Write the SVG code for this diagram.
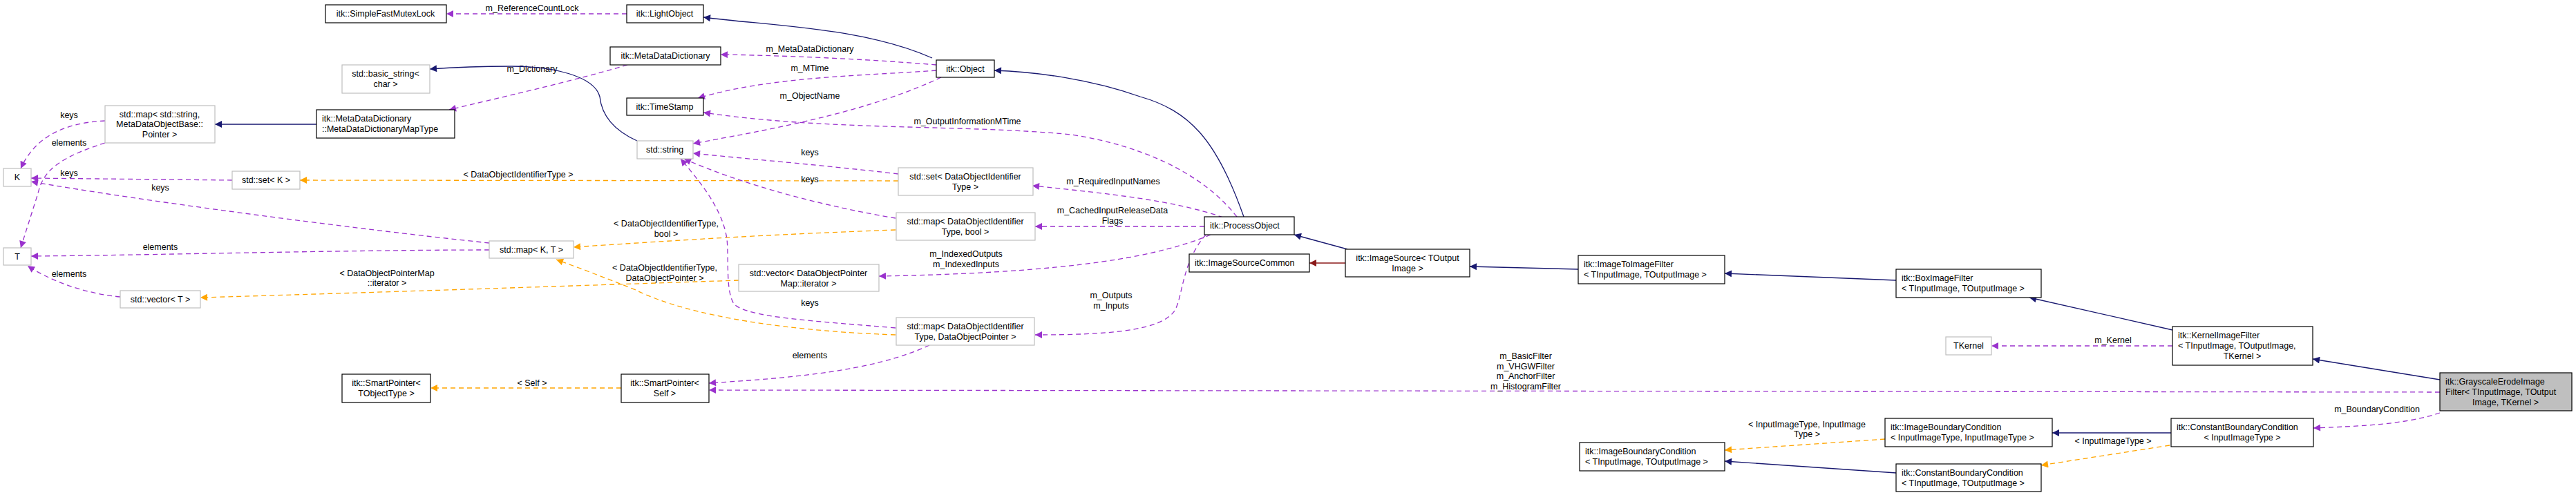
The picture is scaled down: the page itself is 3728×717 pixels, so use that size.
<svg xmlns="http://www.w3.org/2000/svg" width="3728" height="717" viewBox="0 0 3728 717">
<style>
text{font-family:"Liberation Sans",Arial,sans-serif;font-size:12.5px;fill:#000}
.n rect{fill:#fff;stroke:#000;stroke-width:1.2}
.g rect{fill:#fff;stroke:#bfbfbf;stroke-width:1.2}
.h rect{fill:#bfbfbf;stroke:#000;stroke-width:1.2}
.c{text-anchor:middle}
.inh{fill:none;stroke:#191970;stroke-width:1.3}
.use{fill:none;stroke:#9a32cd;stroke-width:1.3;stroke-dasharray:7,5}
.tpl{fill:none;stroke:#ffa500;stroke-width:1.3;stroke-dasharray:7,5}
.prv{fill:none;stroke:#8b1a1a;stroke-width:1.3}
</style>
<defs>
<marker id="aI" viewBox="0 0 10 10" refX="10" refY="5" markerWidth="12" markerHeight="10" markerUnits="userSpaceOnUse" orient="auto"><path d="M0,0L10,5L0,10z" fill="#191970"/></marker>
<marker id="aU" viewBox="0 0 10 10" refX="10" refY="5" markerWidth="12" markerHeight="10" markerUnits="userSpaceOnUse" orient="auto"><path d="M0,0L10,5L0,10z" fill="#9a32cd"/></marker>
<marker id="aT" viewBox="0 0 10 10" refX="10" refY="5" markerWidth="12" markerHeight="10" markerUnits="userSpaceOnUse" orient="auto"><path d="M0,0L10,5L0,10z" fill="#ffa500"/></marker>
<marker id="aP" viewBox="0 0 10 10" refX="10" refY="5" markerWidth="12" markerHeight="10" markerUnits="userSpaceOnUse" orient="auto"><path d="M0,0L10,5L0,10z" fill="#8b1a1a"/></marker>
</defs>
<g id="connectors">
<path class="use" marker-end="url(#aU)" d="M907,20 L646,20"/>
<text class="c" x="770" y="16">m_ReferenceCountLock</text>
<path class="inh" marker-end="url(#aI)" d="M1349,84 C1250,40 1120,38 1018,25"/>
<path class="use" marker-end="url(#aU)" d="M1355,94 C1250,85 1120,80 1043,79"/>
<text class="c" x="1172" y="75">m_MetaDataDictionary</text>
<path class="use" marker-end="url(#aU)" d="M1355,102 C1250,110 1120,110 1010,142"/>
<text class="c" x="1172" y="103">m_MTime</text>
<path class="use" marker-end="url(#aU)" d="M1362,112 C1250,165 1100,190 1003,208"/>
<text class="c" x="1172" y="143">m_ObjectName</text>
<path class="use" marker-end="url(#aU)" d="M908,94 C820,120 720,142 650,159"/>
<text class="c" x="770" y="104">m_Dictionary</text>
<path class="inh" marker-end="url(#aI)" d="M922,204 C880,185 870,160 868,140 C860,110 800,96 740,96 C690,96 650,98 622,100"/>
<path class="inh" marker-end="url(#aI)" d="M458,180 L311,180"/>
<path class="use" marker-end="url(#aU)" d="M152,175 C90,178 50,200 30,244"/>
<text class="c" x="100" y="171">keys</text>
<path class="use" marker-end="url(#aU)" d="M152,207 C80,230 62,250 55,280 L30,359"/>
<text class="c" x="100" y="211">elements</text>
<path class="use" marker-end="url(#aU)" d="M336,261 L45,258"/>
<text class="c" x="100" y="255">keys</text>
<path class="use" marker-end="url(#aU)" d="M708,352 C500,330 200,290 45,263"/>
<text class="c" x="232" y="276">keys</text>
<path class="use" marker-end="url(#aU)" d="M708,362 C500,362 200,370 45,371"/>
<text class="c" x="232" y="362">elements</text>
<path class="use" marker-end="url(#aU)" d="M174,430 C120,425 70,405 40,385"/>
<text class="c" x="100" y="401">elements</text>
<path class="use" marker-end="url(#aU)" d="M1300,252 C1200,240 1100,232 1003,222"/>
<text class="c" x="1172" y="225">keys</text>
<path class="tpl" marker-end="url(#aT)" d="M1300,262 L434,261"/>
<text class="c" x="750" y="257">&lt; DataObjectIdentifierType &gt;</text>
<path class="use" marker-end="url(#aU)" d="M1296,316 C1200,300 1080,270 990,230"/>
<text class="c" x="1172" y="264">keys</text>
<path class="tpl" marker-end="url(#aT)" d="M1296,333 C1100,340 950,350 830,358"/>
<text class="c" x="964" y="328">&lt; DataObjectIdentifierType,</text>
<text class="c" x="964" y="343">bool &gt;</text>
<path class="use" marker-end="url(#aU)" d="M1296,475 C1180,465 1080,460 1062,440 C1050,420 1055,380 1052,346 C1045,300 1010,260 985,230"/>
<text class="c" x="1172" y="443">keys</text>
<path class="tpl" marker-end="url(#aT)" d="M1296,485 C1150,480 1000,460 920,420 C870,400 830,385 805,376"/>
<text class="c" x="962" y="392">&lt; DataObjectIdentifierType,</text>
<text class="c" x="962" y="407">DataObjectPointer &gt;</text>
<path class="tpl" marker-end="url(#aT)" d="M1069,406 C800,415 500,425 290,431"/>
<text class="c" x="560" y="400">&lt; DataObjectPointerMap</text>
<text class="c" x="560" y="414">::iterator &gt;</text>
<path class="use" marker-end="url(#aU)" d="M1345,500 C1260,540 1130,548 1026,555"/>
<text class="c" x="1172" y="519">elements</text>
<path class="tpl" marker-end="url(#aT)" d="M899,562 L623,562"/>
<text class="c" x="770" y="559">&lt; Self &gt;</text>
<path class="inh" marker-end="url(#aI)" d="M1800,314 C1760,200 1720,160 1650,140 C1580,115 1500,104 1439,102"/>
<path class="use" marker-end="url(#aU)" d="M1790,314 C1740,250 1650,210 1550,195 C1400,180 1200,190 1018,163"/>
<text class="c" x="1400" y="180">m_OutputInformationMTime</text>
<path class="use" marker-end="url(#aU)" d="M1770,315 C1700,290 1600,280 1494,269"/>
<text class="c" x="1611" y="267">m_RequiredInputNames</text>
<path class="use" marker-end="url(#aU)" d="M1743,328 L1498,328"/>
<text class="c" x="1610" y="309">m_CachedInputReleaseData</text>
<text class="c" x="1610" y="324">Flags</text>
<path class="use" marker-end="url(#aU)" d="M1752,340 C1680,370 1560,395 1272,400"/>
<text class="c" x="1398" y="372">m_IndexedOutputs</text>
<text class="c" x="1398" y="387">m_IndexedInputs</text>
<path class="use" marker-end="url(#aU)" d="M1745,340 C1710,380 1712,430 1700,450 C1680,480 1600,485 1498,485"/>
<text class="c" x="1608" y="432">m_Outputs</text>
<text class="c" x="1608" y="447">m_Inputs</text>
<path class="inh" marker-end="url(#aI)" d="M1950,361 L1873,340"/>
<path class="prv" marker-end="url(#aP)" d="M1947,381 L1895,381"/>
<path class="inh" marker-end="url(#aI)" d="M2284,390 L2127,386"/>
<path class="inh" marker-end="url(#aI)" d="M2744,406 L2496,396"/>
<path class="inh" marker-end="url(#aI)" d="M3144,478 L2937,431"/>
<path class="use" marker-end="url(#aU)" d="M3144,501 L2882,501"/>
<text class="c" x="3058" y="497">m_Kernel</text>
<path class="inh" marker-end="url(#aI)" d="M3531,550 L3347,520"/>
<path class="use" marker-end="url(#aU)" d="M3531,568 L1026,565"/>
<text class="c" x="2208" y="520">m_BasicFilter</text>
<text class="c" x="2208" y="535">m_VHGWFilter</text>
<text class="c" x="2208" y="549">m_AnchorFilter</text>
<text class="c" x="2208" y="564">m_HistogramFilter</text>
<path class="use" marker-end="url(#aU)" d="M3531,598 C3480,615 3420,617 3348,620"/>
<text class="c" x="3440" y="597">m_BoundaryCondition</text>
<path class="inh" marker-end="url(#aI)" d="M3142,627 L2970,627"/>
<path class="tpl" marker-end="url(#aT)" d="M3140,645 L2954,674"/>
<text class="c" x="3058" y="643">&lt; InputImageType &gt;</text>
<path class="tpl" marker-end="url(#aT)" d="M2728,636 L2496,652"/>
<text class="c" x="2615" y="619">&lt; InputImageType, InputImage</text>
<text class="c" x="2615" y="633">Type &gt;</text>
<path class="inh" marker-end="url(#aI)" d="M2744,685 L2496,668"/>
</g>
<g id="SimpleFastMutexLock" class="n"><rect x="471" y="7" width="175" height="26"/><text class="c" x="558" y="24">itk::SimpleFastMutexLock</text></g>
<g id="LightObject" class="n"><rect x="907" y="7" width="111" height="26"/><text class="c" x="962" y="24">itk::LightObject</text></g>
<g id="MetaDataDictionary" class="n"><rect x="883" y="68" width="160" height="26"/><text class="c" x="963" y="85">itk::MetaDataDictionary</text></g>
<g id="Object" class="n"><rect x="1355" y="87" width="84" height="25"/><text class="c" x="1397" y="104">itk::Object</text></g>
<g id="basic_string" class="g"><rect x="495" y="94" width="127" height="41"/><text class="c" x="558" y="111">std::basic_string&lt;</text><text class="c" x="558" y="126">char &gt;</text></g>
<g id="MapType" class="n"><rect x="458" y="159" width="200" height="41"/><text x="466" y="176">itk::MetaDataDictionary</text><text x="466" y="191">::MetaDataDictionaryMapType</text></g>
<g id="TimeStamp" class="n"><rect x="907" y="142" width="111" height="25"/><text class="c" x="962" y="159">itk::TimeStamp</text></g>
<g id="stdmapstring" class="g"><rect x="152" y="153" width="159" height="54"/><text class="c" x="231" y="170">std::map&lt; std::string,</text><text class="c" x="231" y="184">MetaDataObjectBase::</text><text class="c" x="231" y="199">Pointer &gt;</text></g>
<g id="stdstring" class="g"><rect x="922" y="204" width="81" height="26"/><text class="c" x="962" y="221">std::string</text></g>
<g id="K" class="g"><rect x="5" y="244" width="40" height="26"/><text class="c" x="25" y="261">K</text></g>
<g id="setK" class="g"><rect x="336" y="248" width="98" height="26"/><text class="c" x="385" y="265">std::set&lt; K &gt;</text></g>
<g id="setDOIT" class="g"><rect x="1300" y="243" width="195" height="40"/><text class="c" x="1397" y="260">std::set&lt; DataObjectIdentifier</text><text class="c" x="1397" y="275">Type &gt;</text></g>
<g id="mapDOITbool" class="g"><rect x="1297" y="308" width="201" height="40"/><text class="c" x="1397" y="325">std::map&lt; DataObjectIdentifier</text><text class="c" x="1397" y="340">Type, bool &gt;</text></g>
<g id="mapKT" class="g"><rect x="708" y="349" width="122" height="25"/><text class="c" x="769" y="366">std::map&lt; K, T &gt;</text></g>
<g id="T" class="g"><rect x="5" y="359" width="40" height="25"/><text class="c" x="25" y="376">T</text></g>
<g id="vectorIter" class="g"><rect x="1069" y="383" width="203" height="39"/><text class="c" x="1170" y="400">std::vector&lt; DataObjectPointer</text><text class="c" x="1170" y="415">Map::iterator &gt;</text></g>
<g id="vectorT" class="g"><rect x="174" y="421" width="116" height="25"/><text class="c" x="232" y="438">std::vector&lt; T &gt;</text></g>
<g id="mapDOITptr" class="g"><rect x="1297" y="460" width="200" height="40"/><text class="c" x="1397" y="477">std::map&lt; DataObjectIdentifier</text><text class="c" x="1397" y="492">Type, DataObjectPointer &gt;</text></g>
<g id="SmartPointerTObj" class="n"><rect x="495" y="542" width="128" height="41"/><text class="c" x="559" y="559">itk::SmartPointer&lt;</text><text class="c" x="559" y="574">TObjectType &gt;</text></g>
<g id="SmartPointerSelf" class="n"><rect x="899" y="542" width="127" height="41"/><text class="c" x="962" y="559">itk::SmartPointer&lt;</text><text class="c" x="962" y="574">Self &gt;</text></g>
<g id="ProcessObject" class="n"><rect x="1743" y="314" width="130" height="26"/><text x="1751" y="331">itk::ProcessObject</text></g>
<g id="ImageSourceCommon" class="n"><rect x="1721" y="368" width="174" height="26"/><text x="1729" y="385">itk::ImageSourceCommon</text></g>
<g id="ImageSource" class="n"><rect x="1947" y="361" width="180" height="40"/><text class="c" x="2037" y="378">itk::ImageSource&lt; TOutput</text><text class="c" x="2037" y="393">Image &gt;</text></g>
<g id="ImageToImageFilter" class="n"><rect x="2284" y="370" width="212" height="41"/><text x="2292" y="387">itk::ImageToImageFilter</text><text x="2292" y="402">&lt; TInputImage, TOutputImage &gt;</text></g>
<g id="BoxImageFilter" class="n"><rect x="2744" y="390" width="210" height="41"/><text x="2752" y="407">itk::BoxImageFilter</text><text x="2752" y="422">&lt; TInputImage, TOutputImage &gt;</text></g>
<g id="TKernel" class="g"><rect x="2816" y="488" width="66" height="26"/><text class="c" x="2849" y="505">TKernel</text></g>
<g id="KernelImageFilter" class="n"><rect x="3144" y="473" width="203" height="56"/><text x="3152" y="490">itk::KernelImageFilter</text><text x="3152" y="505">&lt; TInputImage, TOutputImage,</text><text class="c" x="3245" y="520">TKernel &gt;</text></g>
<g id="GrayscaleErode" class="h"><rect x="3531" y="540" width="191" height="55"/><text x="3539" y="557">itk::GrayscaleErodeImage</text><text x="3539" y="572">Filter&lt; TInputImage, TOutput</text><text class="c" x="3626" y="587">Image, TKernel &gt;</text></g>
<g id="ImageBCInput" class="n"><rect x="2728" y="606" width="242" height="41"/><text x="2736" y="623">itk::ImageBoundaryCondition</text><text x="2736" y="638">&lt; InputImageType, InputImageType &gt;</text></g>
<g id="ConstBCInput" class="n"><rect x="3142" y="606" width="206" height="41"/><text x="3150" y="623">itk::ConstantBoundaryCondition</text><text class="c" x="3245" y="638">&lt; InputImageType &gt;</text></g>
<g id="ImageBC" class="n"><rect x="2286" y="641" width="210" height="41"/><text x="2294" y="658">itk::ImageBoundaryCondition</text><text x="2294" y="673">&lt; TInputImage, TOutputImage &gt;</text></g>
<g id="ConstBC" class="n"><rect x="2744" y="672" width="210" height="40"/><text x="2752" y="689">itk::ConstantBoundaryCondition</text><text x="2752" y="704">&lt; TInputImage, TOutputImage &gt;</text></g>
</svg>
